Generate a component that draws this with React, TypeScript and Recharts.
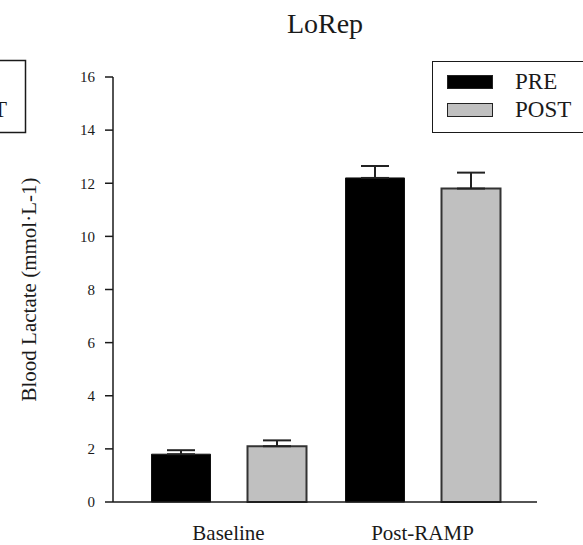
import React from 'react';
import { BarChart, Bar, XAxis, YAxis, ErrorBar } from 'recharts';

const categories = ['Baseline', 'Post-RAMP'];
const preValues = [1.8, 12.2];
const preErrors = [0.15, 0.45];
const postValues = [2.1, 11.8];
const postErrors = [0.22, 0.6];
const yTicks = [0, 2, 4, 6, 8, 10, 12, 14, 16];

const FONT = '"Liberation Serif", "Times New Roman", serif';
const INK = '#1a1a1a';
const PRE_FILL = '#000';
const POST_FILL = '#c0c0c0';

// one row per category, errors as [below, above] so only the upper whisker shows
const data = categories.map((name, i) => ({
    name,
    pre: preValues[i],
    preErr: [0, preErrors[i]],
    post: postValues[i],
    postErr: [0, postErrors[i]],
}));

const legendItems = [
    { label: 'PRE', fill: PRE_FILL },
    { label: 'POST', fill: POST_FILL },
];

const YLabel = (props: any) => {
    const vb = props.viewBox || { x: 0, y: 0, width: 0, height: 0 };
    const cx = vb.x + 29;
    const cy = vb.y + vb.height / 2;
    return (
        <text x={cx} y={cy} transform={`rotate(-90 ${cx} ${cy})`} textAnchor="middle" dominantBaseline="central"
            fontFamily={FONT} fontSize={21} fill={INK}>
            Blood Lactate (mmol·L-1)
        </text>
    );
};

export default function App() {
    return (
        <div style={{ position: 'fixed', left: 0, top: 0, width: 583, height: 545, overflow: 'hidden', background: '#fff' }}>
            {/* cut-off legend from the neighbouring panel */}
            <svg width={40} height={545} style={{ position: 'absolute', left: 0, top: 0 }}>
                <rect x={-150} y={60.5} width={175.5} height={72} fill="none" stroke={INK} strokeWidth={1.5} />
                <text x={7} y={117} textAnchor="end" fontFamily={FONT} fontSize={23} fill={INK}>POST</text>
            </svg>
            <div style={{
                position: 'absolute', left: 113, top: 10, width: 424, textAlign: 'center',
                fontFamily: FONT, fontSize: 28, lineHeight: '28px', color: INK,
            }}>
                LoRep
            </div>
            <BarChart
                width={583}
                height={545}
                data={data}
                margin={{ top: 77, right: 46, bottom: 0, left: 0 }}
                barSize={59}
                barGap={37}
            >
                <XAxis
                    dataKey="name"
                    height={43}
                    padding={{ left: 18.5, right: 17.5 }}
                    axisLine={{ stroke: INK, strokeWidth: 1.5 }}
                    tickLine={false}
                    tickSize={0}
                    tickMargin={23}
                    tick={{ fill: INK, fontSize: 21, fontFamily: FONT }}
                />
                <YAxis
                    width={113}
                    domain={[0, 16]}
                    ticks={yTicks}
                    interval={0}
                    axisLine={{ stroke: INK, strokeWidth: 1.5 }}
                    tickLine={{ stroke: INK, strokeWidth: 1.5 }}
                    tickSize={8}
                    tickMargin={10}
                    tick={{ fill: INK, fontSize: 15, fontFamily: FONT }}
                    label={{ content: YLabel }}
                />
                <Bar dataKey="pre" name="PRE" fill={PRE_FILL} stroke="#111" strokeWidth={1} isAnimationActive={false}>
                    <ErrorBar dataKey="preErr" width={14} stroke="#222" strokeWidth={2} direction="y" />
                </Bar>
                <Bar dataKey="post" name="POST" fill={POST_FILL} stroke="#333" strokeWidth={2} isAnimationActive={false}>
                    <ErrorBar dataKey="postErr" width={14} stroke="#222" strokeWidth={2} direction="y" />
                </Bar>
            </BarChart>
            <div style={{
                position: 'absolute', left: 432, top: 61, width: 200, height: 72, boxSizing: 'border-box',
                border: `1.5px solid ${INK}`, paddingTop: 6, fontFamily: FONT,
            }}>
                {legendItems.map(it => (
                    <div key={it.label} style={{ height: 28, display: 'flex', alignItems: 'center' }}>
                        <span style={{
                            display: 'inline-block', width: 46, height: 14, marginLeft: 14,
                            background: it.fill, border: '1.5px solid #222', boxSizing: 'border-box',
                        }} />
                        <span style={{ marginLeft: 22, fontSize: 23, color: INK, lineHeight: '28px' }}>{it.label}</span>
                    </div>
                ))}
            </div>
        </div>
    );
}
